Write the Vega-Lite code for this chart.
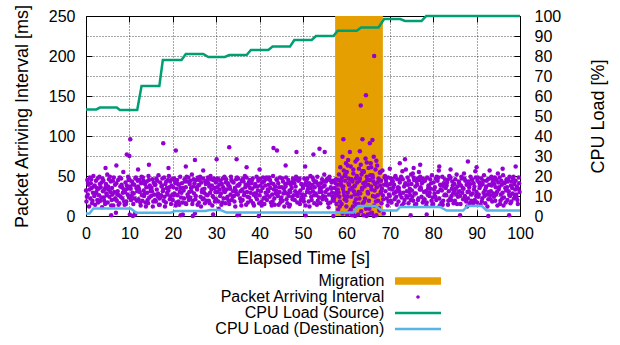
{
"$schema":"https://vega.github.io/schema/vega-lite/v6.json",
"width":434,"height":200,
"autosize":{"type":"none"},
"padding":{"left":86,"top":16,"right":100,"bottom":129},
"config":{
 "font":"Liberation Sans",
 "view":{"stroke":"#000","strokeWidth":1},
 "axis":{"labelFontSize":16,"titleFontSize":18,"labelColor":"#000","titleColor":"#000","titleFontWeight":"normal","domain":false,"tickColor":"#000","tickWidth":1,"tickSize":-6,"gridColor":"#000","gridOpacity":0.7,"gridDash":[1,2],"gridWidth":1,"labelFlush":false,"labelOverlap":false}
},
"datasets":{
"mig":[{"start":57.4,"end":68.4}],
"src":[{"t":0,"p":53.3},{"t":2.4,"p":53.3},{"t":3.2,"p":54.2},{"t":7.1,"p":54.2},{"t":7.8,"p":53},{"t":11.8,"p":53},{"t":12.8,"p":65},{"t":16.9,"p":65},{"t":17.7,"p":78},{"t":22,"p":78},{"t":23,"p":81},{"t":27,"p":81},{"t":28.2,"p":79.5},{"t":32,"p":79.5},{"t":33,"p":80.5},{"t":37,"p":80.5},{"t":38,"p":83},{"t":42,"p":83},{"t":43,"p":84.7},{"t":47,"p":84.7},{"t":48,"p":88},{"t":52,"p":88},{"t":53,"p":90},{"t":57,"p":90},{"t":58,"p":92.6},{"t":62.4,"p":92.6},{"t":63.4,"p":94.3},{"t":67.4,"p":94.3},{"t":68.7,"p":98.5},{"t":72.4,"p":98.5},{"t":73.5,"p":97.5},{"t":77.3,"p":97.5},{"t":78.4,"p":100},{"t":100,"p":100}],
"dst":[{"t":0,"p":1.3},{"t":0.8,"p":1.3},{"t":1.7,"p":3.8},{"t":10.3,"p":3.8},{"t":11.6,"p":1.6},{"t":19.5,"p":1.6},{"t":20.5,"p":2.5},{"t":27.5,"p":2.5},{"t":28.5,"p":3},{"t":31,"p":3},{"t":32.4,"p":1.7},{"t":61.6,"p":1.7},{"t":62.7,"p":5},{"t":66.8,"p":5},{"t":68.1,"p":2.7},{"t":71.6,"p":2.7},{"t":72.4,"p":4.5},{"t":81.6,"p":4.5},{"t":83.1,"p":2.7},{"t":86.9,"p":2.7},{"t":87.9,"p":5},{"t":91.2,"p":5},{"t":92.3,"p":2.8},{"t":100,"p":2.8}],
"pkt":[
{"t":0,"v":32},{"t":0.1,"v":18},{"t":0.3,"v":45},{"t":0.4,"v":27},{"t":0.6,"v":39},{"t":0.7,"v":12},{"t":0.9,"v":48},
{"t":1,"v":22},{"t":1.1,"v":41},{"t":1.3,"v":35},{"t":1.4,"v":16},{"t":1.6,"v":29},{"t":1.7,"v":50},{"t":1.9,"v":25},
{"t":2,"v":38},{"t":2.1,"v":14},{"t":2.3,"v":44},{"t":2.4,"v":30},{"t":2.6,"v":20},{"t":2.7,"v":47},{"t":2.9,"v":34},
{"t":3,"v":26},{"t":3.1,"v":49},{"t":3.3,"v":19},{"t":3.4,"v":36},{"t":3.6,"v":42},{"t":3.7,"v":11},{"t":3.9,"v":31},
{"t":4,"v":44},{"t":4.1,"v":23},{"t":4.3,"v":33},{"t":4.4,"v":15},{"t":4.6,"v":40},{"t":4.7,"v":28},{"t":4.9,"v":52},
{"t":5,"v":17},{"t":5.1,"v":37},{"t":5.3,"v":46},{"t":5.4,"v":24},{"t":5.6,"v":30},{"t":5.7,"v":43},{"t":5.9,"v":20},
{"t":6,"v":35},{"t":6.1,"v":27},{"t":6.3,"v":13},{"t":6.4,"v":48},{"t":6.6,"v":21},{"t":6.7,"v":39},{"t":6.9,"v":4},
{"t":7,"v":41},{"t":7.1,"v":19},{"t":7.3,"v":31},{"t":7.4,"v":45},{"t":7.6,"v":26},{"t":7.7,"v":16},{"t":7.9,"v":37},
{"t":8,"v":24},{"t":8.1,"v":47},{"t":8.3,"v":36},{"t":8.4,"v":22},{"t":8.6,"v":55},{"t":8.7,"v":33},{"t":8.9,"v":14},
{"t":9,"v":30},{"t":9.1,"v":42},{"t":9.3,"v":18},{"t":9.4,"v":38},{"t":9.6,"v":27},{"t":9.7,"v":49},{"t":9.9,"v":23},
{"t":10,"v":46},{"t":10.1,"v":2},{"t":10.3,"v":34},{"t":10.4,"v":20},{"t":10.6,"v":43},{"t":10.7,"v":29},{"t":10.9,"v":15},
{"t":11,"v":28},{"t":11.1,"v":39},{"t":11.3,"v":3},{"t":11.4,"v":47},{"t":11.6,"v":35},{"t":11.7,"v":19},{"t":11.9,"v":44},
{"t":12,"v":37},{"t":12.1,"v":21},{"t":12.3,"v":45},{"t":12.4,"v":30},{"t":12.6,"v":13},{"t":12.7,"v":41},{"t":12.9,"v":26},
{"t":13,"v":19},{"t":13.1,"v":48},{"t":13.3,"v":32},{"t":13.4,"v":25},{"t":13.6,"v":40},{"t":13.7,"v":17},{"t":13.9,"v":36},
{"t":14,"v":43},{"t":14.1,"v":29},{"t":14.3,"v":16},{"t":14.4,"v":50},{"t":14.6,"v":23},{"t":14.7,"v":38},{"t":14.9,"v":31},
{"t":15,"v":25},{"t":15.1,"v":35},{"t":15.3,"v":46},{"t":15.4,"v":12},{"t":15.6,"v":42},{"t":15.7,"v":27},{"t":15.9,"v":20},
{"t":16,"v":39},{"t":16.1,"v":18},{"t":16.3,"v":33},{"t":16.4,"v":44},{"t":16.6,"v":28},{"t":16.7,"v":51},{"t":16.9,"v":22},
{"t":17,"v":14},{"t":17.1,"v":42},{"t":17.3,"v":26},{"t":17.4,"v":37},{"t":17.6,"v":47},{"t":17.7,"v":31},{"t":17.9,"v":19},
{"t":18,"v":48},{"t":18.1,"v":24},{"t":18.3,"v":40},{"t":18.4,"v":17},{"t":18.6,"v":35},{"t":18.7,"v":29},{"t":18.9,"v":45},
{"t":19,"v":32},{"t":19.1,"v":50},{"t":19.3,"v":21},{"t":19.4,"v":43},{"t":19.6,"v":15},{"t":19.7,"v":38},{"t":19.9,"v":27},
{"t":20,"v":20},{"t":20.1,"v":36},{"t":20.3,"v":47},{"t":20.4,"v":28},{"t":20.6,"v":41},{"t":20.7,"v":13},{"t":20.9,"v":34},
{"t":21,"v":45},{"t":21.1,"v":26},{"t":21.3,"v":18},{"t":21.4,"v":39},{"t":21.6,"v":30},{"t":21.7,"v":49},{"t":21.9,"v":23},
{"t":22,"v":29},{"t":22.1,"v":41},{"t":22.3,"v":2},{"t":22.4,"v":35},{"t":22.6,"v":22},{"t":22.7,"v":46},{"t":22.9,"v":16},
{"t":23,"v":36},{"t":23.1,"v":15},{"t":23.3,"v":43},{"t":23.4,"v":27},{"t":23.6,"v":48},{"t":23.7,"v":20},{"t":23.9,"v":40},
{"t":24,"v":23},{"t":24.1,"v":44},{"t":24.3,"v":31},{"t":24.4,"v":52},{"t":24.6,"v":19},{"t":24.7,"v":37},{"t":24.9,"v":28},
{"t":25,"v":41},{"t":25.1,"v":3},{"t":25.3,"v":25},{"t":25.4,"v":45},{"t":25.6,"v":33},{"t":25.7,"v":14},{"t":25.9,"v":38},
{"t":26,"v":17},{"t":26.1,"v":39},{"t":26.3,"v":49},{"t":26.4,"v":24},{"t":26.6,"v":42},{"t":26.7,"v":30},{"t":26.9,"v":21},
{"t":27,"v":47},{"t":27.1,"v":22},{"t":27.3,"v":34},{"t":27.4,"v":16},{"t":27.6,"v":40},{"t":27.7,"v":27},{"t":27.9,"v":44},
{"t":28,"v":26},{"t":28.1,"v":48},{"t":28.3,"v":19},{"t":28.4,"v":37},{"t":28.6,"v":29},{"t":28.7,"v":50},{"t":28.9,"v":33},
{"t":29,"v":38},{"t":29.1,"v":13},{"t":29.3,"v":45},{"t":29.4,"v":23},{"t":29.6,"v":35},{"t":29.7,"v":18},{"t":29.9,"v":42},
{"t":30,"v":21},{"t":30.1,"v":43},{"t":30.3,"v":30},{"t":30.4,"v":47},{"t":30.6,"v":9},{"t":30.7,"v":39},{"t":30.9,"v":25},
{"t":31,"v":44},{"t":31.1,"v":28},{"t":31.3,"v":40},{"t":31.4,"v":17},{"t":31.6,"v":36},{"t":31.7,"v":22},{"t":31.9,"v":49},
{"t":32,"v":30},{"t":32.1,"v":16},{"t":32.3,"v":46},{"t":32.4,"v":33},{"t":32.6,"v":24},{"t":32.7,"v":41},{"t":32.9,"v":19},
{"t":33,"v":15},{"t":33.1,"v":37},{"t":33.3,"v":27},{"t":33.4,"v":49},{"t":33.6,"v":20},{"t":33.7,"v":43},{"t":33.9,"v":31},
{"t":34,"v":42},{"t":34.1,"v":25},{"t":34.3,"v":35},{"t":34.4,"v":12},{"t":34.6,"v":46},{"t":34.7,"v":28},{"t":34.9,"v":38},
{"t":35,"v":27},{"t":35.1,"v":47},{"t":35.3,"v":2},{"t":35.4,"v":40},{"t":35.6,"v":31},{"t":35.7,"v":18},{"t":35.9,"v":44},
{"t":36,"v":33},{"t":36.1,"v":20},{"t":36.3,"v":43},{"t":36.4,"v":26},{"t":36.6,"v":50},{"t":36.7,"v":36},{"t":36.9,"v":14},
{"t":37,"v":48},{"t":37.1,"v":30},{"t":37.3,"v":17},{"t":37.4,"v":38},{"t":37.6,"v":23},{"t":37.7,"v":45},{"t":37.9,"v":29},
{"t":38,"v":19},{"t":38.1,"v":41},{"t":38.3,"v":34},{"t":38.4,"v":47},{"t":38.6,"v":27},{"t":38.7,"v":13},{"t":38.9,"v":37},
{"t":39,"v":40},{"t":39.1,"v":24},{"t":39.3,"v":49},{"t":39.4,"v":21},{"t":39.6,"v":32},{"t":39.7,"v":44},{"t":39.9,"v":16},
{"t":40,"v":26},{"t":40.1,"v":46},{"t":40.3,"v":31},{"t":40.4,"v":18},{"t":40.6,"v":42},{"t":40.7,"v":35},{"t":40.9,"v":22},
{"t":41,"v":43},{"t":41.1,"v":15},{"t":41.3,"v":38},{"t":41.4,"v":29},{"t":41.6,"v":48},{"t":41.7,"v":20},{"t":41.9,"v":33},
{"t":42,"v":31},{"t":42.1,"v":39},{"t":42.3,"v":24},{"t":42.4,"v":45},{"t":42.6,"v":17},{"t":42.7,"v":41},{"t":42.9,"v":27},
{"t":43,"v":18},{"t":43.1,"v":50},{"t":43.3,"v":33},{"t":43.4,"v":22},{"t":43.6,"v":37},{"t":43.7,"v":28},{"t":43.9,"v":46},
{"t":44,"v":45},{"t":44.1,"v":27},{"t":44.3,"v":41},{"t":44.4,"v":14},{"t":44.6,"v":30},{"t":44.7,"v":48},{"t":44.9,"v":21},
{"t":45,"v":23},{"t":45.1,"v":36},{"t":45.3,"v":19},{"t":45.4,"v":43},{"t":45.6,"v":34},{"t":45.7,"v":12},{"t":45.9,"v":40},
{"t":46,"v":37},{"t":46.1,"v":48},{"t":46.3,"v":28},{"t":46.4,"v":16},{"t":46.6,"v":45},{"t":46.7,"v":25},{"t":46.9,"v":32},
{"t":47,"v":14},{"t":47.1,"v":30},{"t":47.3,"v":42},{"t":47.4,"v":35},{"t":47.6,"v":21},{"t":47.7,"v":47},{"t":47.9,"v":26},
{"t":48,"v":41},{"t":48.1,"v":20},{"t":48.3,"v":37},{"t":48.4,"v":49},{"t":48.6,"v":27},{"t":48.7,"v":17},{"t":48.9,"v":44},
{"t":49,"v":29},{"t":49.1,"v":45},{"t":49.3,"v":15},{"t":49.4,"v":32},{"t":49.6,"v":40},{"t":49.7,"v":23},{"t":49.9,"v":38},
{"t":50,"v":35},{"t":50.1,"v":22},{"t":50.3,"v":47},{"t":50.4,"v":26},{"t":50.6,"v":13},{"t":50.7,"v":42},{"t":50.9,"v":30},
{"t":51,"v":47},{"t":51.1,"v":33},{"t":51.3,"v":18},{"t":51.4,"v":41},{"t":51.6,"v":29},{"t":51.7,"v":50},{"t":51.9,"v":24},
{"t":52,"v":20},{"t":52.1,"v":39},{"t":52.3,"v":31},{"t":52.4,"v":45},{"t":52.6,"v":16},{"t":52.7,"v":36},{"t":52.9,"v":28},
{"t":53,"v":43},{"t":53.1,"v":26},{"t":53.3,"v":49},{"t":53.4,"v":19},{"t":53.6,"v":38},{"t":53.7,"v":23},{"t":53.9,"v":34},
{"t":54,"v":16},{"t":54.1,"v":41},{"t":54.3,"v":30},{"t":54.4,"v":46},{"t":54.6,"v":25},{"t":54.7,"v":37},{"t":54.9,"v":52},
{"t":55,"v":38},{"t":55.1,"v":24},{"t":55.3,"v":43},{"t":55.4,"v":20},{"t":55.6,"v":33},{"t":55.7,"v":47},{"t":55.9,"v":11},
{"t":56,"v":27},{"t":56.1,"v":49},{"t":56.3,"v":17},{"t":56.4,"v":36},{"t":56.6,"v":42},{"t":56.7,"v":29},{"t":56.9,"v":21},
{"t":57,"v":44},{"t":57.1,"v":19},{"t":57.3,"v":35},{"t":57.4,"v":28},{"t":57.6,"v":46},{"t":57.7,"v":15},{"t":57.9,"v":39},
{"t":58,"v":33},{"t":58.1,"v":8},{"t":58.3,"v":52},{"t":58.4,"v":24},{"t":58.6,"v":61},{"t":58.7,"v":41},{"t":58.9,"v":15},
{"t":59,"v":48},{"t":59.1,"v":3},{"t":59.3,"v":37},{"t":59.4,"v":57},{"t":59.6,"v":21},{"t":59.7,"v":44},{"t":59.9,"v":66},
{"t":60,"v":12},{"t":60.1,"v":55},{"t":60.3,"v":29},{"t":60.4,"v":70},{"t":60.6,"v":39},{"t":60.7,"v":5},{"t":60.9,"v":46},
{"t":61,"v":62},{"t":61.1,"v":24},{"t":61.3,"v":1},{"t":61.4,"v":43},{"t":61.6,"v":53},{"t":61.7,"v":31},{"t":61.9,"v":17},
{"t":62,"v":38},{"t":62.1,"v":68},{"t":62.3,"v":14},{"t":62.4,"v":50},{"t":62.6,"v":27},{"t":62.7,"v":2},{"t":62.9,"v":59},
{"t":63,"v":22},{"t":63.1,"v":47},{"t":63.3,"v":64},{"t":63.4,"v":6},{"t":63.6,"v":35},{"t":63.7,"v":56},{"t":63.9,"v":41},
{"t":64,"v":55},{"t":64.1,"v":18},{"t":64.3,"v":42},{"t":64.4,"v":72},{"t":64.6,"v":0},{"t":64.7,"v":49},{"t":64.9,"v":30},
{"t":65,"v":28},{"t":65.1,"v":60},{"t":65.3,"v":9},{"t":65.4,"v":45},{"t":65.6,"v":66},{"t":65.7,"v":37},{"t":65.9,"v":4},
{"t":66,"v":51},{"t":66.1,"v":25},{"t":66.3,"v":74},{"t":66.4,"v":13},{"t":66.6,"v":40},{"t":66.7,"v":58},{"t":66.9,"v":1},
{"t":67,"v":36},{"t":67.1,"v":63},{"t":67.3,"v":19},{"t":67.4,"v":47},{"t":67.6,"v":7},{"t":67.7,"v":54},{"t":67.9,"v":29},
{"t":68,"v":44},{"t":68.1,"v":16},{"t":68.3,"v":57},{"t":68.4,"v":26},{"t":68.6,"v":3},{"t":68.7,"v":39},{"t":68.9,"v":50},
{"t":69,"v":31},{"t":69.1,"v":45},{"t":69.3,"v":22},{"t":69.4,"v":38},{"t":69.6,"v":48},{"t":69.7,"v":18},{"t":69.9,"v":34},
{"t":70,"v":25},{"t":70.1,"v":40},{"t":70.3,"v":47},{"t":70.4,"v":17},{"t":70.6,"v":33},{"t":70.7,"v":43},{"t":70.9,"v":28},
{"t":71,"v":39},{"t":71.1,"v":21},{"t":71.3,"v":50},{"t":71.4,"v":30},{"t":71.6,"v":14},{"t":71.7,"v":46},{"t":71.9,"v":36},
{"t":72,"v":18},{"t":72.1,"v":35},{"t":72.3,"v":42},{"t":72.4,"v":27},{"t":72.6,"v":49},{"t":72.7,"v":23},{"t":72.9,"v":56},
{"t":73,"v":46},{"t":73.1,"v":29},{"t":73.3,"v":37},{"t":73.4,"v":20},{"t":73.6,"v":41},{"t":73.7,"v":58},{"t":73.9,"v":31},
{"t":74,"v":23},{"t":74.1,"v":48},{"t":74.3,"v":16},{"t":74.4,"v":44},{"t":74.6,"v":34},{"t":74.7,"v":26},{"t":74.9,"v":52},
{"t":75,"v":40},{"t":75.1,"v":32},{"t":75.3,"v":53},{"t":75.4,"v":19},{"t":75.6,"v":45},{"t":75.7,"v":28},{"t":75.9,"v":37},
{"t":76,"v":28},{"t":76.1,"v":15},{"t":76.3,"v":39},{"t":76.4,"v":47},{"t":76.6,"v":22},{"t":76.7,"v":55},{"t":76.9,"v":33},
{"t":77,"v":49},{"t":77.1,"v":36},{"t":77.3,"v":24},{"t":77.4,"v":41},{"t":77.6,"v":17},{"t":77.7,"v":43},{"t":77.9,"v":30},
{"t":78,"v":21},{"t":78.1,"v":44},{"t":78.3,"v":31},{"t":78.4,"v":13},{"t":78.6,"v":48},{"t":78.7,"v":27},{"t":78.9,"v":38},
{"t":79,"v":37},{"t":79.1,"v":25},{"t":79.3,"v":46},{"t":79.4,"v":34},{"t":79.6,"v":19},{"t":79.7,"v":51},{"t":79.9,"v":23},
{"t":80,"v":15},{"t":80.1,"v":42},{"t":80.3,"v":28},{"t":80.4,"v":36},{"t":80.6,"v":47},{"t":80.7,"v":20},{"t":80.9,"v":45},
{"t":81,"v":44},{"t":81.1,"v":30},{"t":81.3,"v":57},{"t":81.4,"v":22},{"t":81.6,"v":39},{"t":81.7,"v":33},{"t":81.9,"v":17},
{"t":82,"v":32},{"t":82.1,"v":49},{"t":82.3,"v":19},{"t":82.4,"v":41},{"t":82.6,"v":26},{"t":82.7,"v":46},{"t":82.9,"v":35},
{"t":83,"v":26},{"t":83.1,"v":38},{"t":83.3,"v":45},{"t":83.4,"v":14},{"t":83.6,"v":31},{"t":83.7,"v":50},{"t":83.9,"v":22},
{"t":84,"v":48},{"t":84.1,"v":20},{"t":84.3,"v":34},{"t":84.4,"v":43},{"t":84.6,"v":28},{"t":84.7,"v":16},{"t":84.9,"v":40},
{"t":85,"v":19},{"t":85.1,"v":46},{"t":85.3,"v":27},{"t":85.4,"v":52},{"t":85.6,"v":37},{"t":85.7,"v":24},{"t":85.9,"v":43},
{"t":86,"v":41},{"t":86.1,"v":31},{"t":86.3,"v":15},{"t":86.4,"v":38},{"t":86.6,"v":47},{"t":86.7,"v":29},{"t":86.9,"v":21},
{"t":87,"v":34},{"t":87.1,"v":53},{"t":87.3,"v":25},{"t":87.4,"v":44},{"t":87.6,"v":18},{"t":87.7,"v":39},{"t":87.9,"v":30},
{"t":88,"v":22},{"t":88.1,"v":43},{"t":88.3,"v":36},{"t":88.4,"v":16},{"t":88.6,"v":49},{"t":88.7,"v":27},{"t":88.9,"v":46},
{"t":89,"v":45},{"t":89.1,"v":28},{"t":89.3,"v":41},{"t":89.4,"v":33},{"t":89.6,"v":20},{"t":89.7,"v":56},{"t":89.9,"v":25},
{"t":90,"v":30},{"t":90.1,"v":17},{"t":90.3,"v":48},{"t":90.4,"v":24},{"t":90.6,"v":42},{"t":90.7,"v":35},{"t":90.9,"v":14},
{"t":91,"v":38},{"t":91.1,"v":47},{"t":91.3,"v":22},{"t":91.4,"v":40},{"t":91.6,"v":29},{"t":91.7,"v":51},{"t":91.9,"v":32},
{"t":92,"v":16},{"t":92.1,"v":35},{"t":92.3,"v":44},{"t":92.4,"v":27},{"t":92.6,"v":46},{"t":92.7,"v":21},{"t":92.9,"v":39},
{"t":93,"v":47},{"t":93.1,"v":26},{"t":93.3,"v":31},{"t":93.4,"v":49},{"t":93.6,"v":18},{"t":93.7,"v":42},{"t":93.9,"v":28},
{"t":94,"v":24},{"t":94.1,"v":40},{"t":94.3,"v":19},{"t":94.4,"v":36},{"t":94.6,"v":45},{"t":94.7,"v":30},{"t":94.9,"v":53},
{"t":95,"v":42},{"t":95.1,"v":33},{"t":95.3,"v":48},{"t":95.4,"v":15},{"t":95.6,"v":27},{"t":95.7,"v":44},{"t":95.9,"v":22},
{"t":96,"v":29},{"t":96.1,"v":51},{"t":96.3,"v":23},{"t":96.4,"v":41},{"t":96.6,"v":35},{"t":96.7,"v":17},{"t":96.9,"v":46},
{"t":97,"v":36},{"t":97.1,"v":20},{"t":97.3,"v":45},{"t":97.4,"v":31},{"t":97.6,"v":49},{"t":97.7,"v":25},{"t":97.9,"v":38},
{"t":98,"v":18},{"t":98.1,"v":43},{"t":98.3,"v":28},{"t":98.4,"v":47},{"t":98.6,"v":22},{"t":98.7,"v":40},{"t":98.9,"v":33},
{"t":99,"v":44},{"t":99.1,"v":27},{"t":99.3,"v":37},{"t":99.4,"v":20},{"t":99.6,"v":34},{"t":99.7,"v":48},{"t":99.9,"v":30},
{"t":0.2,"v":24},{"t":0.5,"v":41},{"t":0.8,"v":33},{"t":1.2,"v":46},{"t":1.5,"v":19},{"t":1.8,"v":37},{"t":2.2,"v":28},{"t":2.5,"v":35},{"t":2.8,"v":17},
{"t":3.2,"v":40},{"t":3.5,"v":23},{"t":3.8,"v":47},{"t":4.2,"v":19},{"t":4.5,"v":36},{"t":4.8,"v":26},{"t":5.2,"v":33},{"t":5.5,"v":49},{"t":5.8,"v":13},
{"t":6.2,"v":44},{"t":6.5,"v":30},{"t":6.8,"v":22},{"t":7.2,"v":27},{"t":7.5,"v":14},{"t":7.8,"v":48},{"t":8.2,"v":39},{"t":8.5,"v":29},{"t":8.8,"v":18},
{"t":9.2,"v":15},{"t":9.5,"v":34},{"t":9.8,"v":45},{"t":10.2,"v":37},{"t":10.5,"v":25},{"t":10.8,"v":40},{"t":11.2,"v":22},{"t":11.5,"v":48},{"t":11.8,"v":31},
{"t":12.2,"v":34},{"t":12.5,"v":17},{"t":12.8,"v":49},{"t":13.2,"v":44},{"t":13.5,"v":28},{"t":13.8,"v":12},{"t":14.2,"v":20},{"t":14.5,"v":45},{"t":14.8,"v":35},
{"t":15.2,"v":31},{"t":15.5,"v":18},{"t":15.8,"v":39},{"t":16.2,"v":47},{"t":16.5,"v":25},{"t":16.8,"v":14},{"t":17.2,"v":23},{"t":17.5,"v":38},{"t":17.8,"v":33},
{"t":18.2,"v":12},{"t":18.5,"v":43},{"t":18.8,"v":27},{"t":19.2,"v":36},{"t":19.5,"v":24},{"t":19.8,"v":46},{"t":20.2,"v":26},{"t":20.5,"v":44},{"t":20.8,"v":17},
{"t":21.2,"v":40},{"t":21.5,"v":14},{"t":21.8,"v":35},{"t":22.2,"v":17},{"t":22.5,"v":32},{"t":22.8,"v":43},{"t":23.2,"v":49},{"t":23.5,"v":24},{"t":23.8,"v":30},
{"t":24.2,"v":35},{"t":24.5,"v":15},{"t":24.8,"v":46},{"t":25.2,"v":21},{"t":25.5,"v":36},{"t":25.8,"v":48},{"t":26.2,"v":45},{"t":26.5,"v":12},{"t":26.8,"v":33},
{"t":27.2,"v":29},{"t":27.5,"v":43},{"t":27.8,"v":19},{"t":28.2,"v":41},{"t":28.5,"v":16},{"t":28.8,"v":46},{"t":29.2,"v":25},{"t":29.5,"v":47},{"t":29.8,"v":30},
{"t":30.2,"v":36},{"t":30.5,"v":18},{"t":30.8,"v":33},{"t":31.2,"v":14},{"t":31.5,"v":47},{"t":31.8,"v":32},{"t":32.2,"v":42},{"t":32.5,"v":22},{"t":32.8,"v":38},
{"t":33.2,"v":34},{"t":33.5,"v":45},{"t":33.8,"v":24},{"t":34.2,"v":18},{"t":34.5,"v":32},{"t":34.8,"v":48},{"t":35.2,"v":38},{"t":35.5,"v":22},{"t":35.8,"v":13},
{"t":36.2,"v":47},{"t":36.5,"v":29},{"t":36.8,"v":39},{"t":37.2,"v":24},{"t":37.5,"v":42},{"t":37.8,"v":35},{"t":38.2,"v":44},{"t":38.5,"v":16},{"t":38.8,"v":28},
{"t":39.2,"v":28},{"t":39.5,"v":37},{"t":39.8,"v":46},{"t":40.2,"v":38},{"t":40.5,"v":13},{"t":40.8,"v":48},{"t":41.2,"v":23},{"t":41.5,"v":46},{"t":41.8,"v":26},
{"t":42.2,"v":48},{"t":42.5,"v":35},{"t":42.8,"v":13},{"t":43.2,"v":40},{"t":43.5,"v":14},{"t":43.8,"v":32},{"t":44.2,"v":25},{"t":44.5,"v":36},{"t":44.8,"v":17},
{"t":45.2,"v":47},{"t":45.5,"v":28},{"t":45.8,"v":30},{"t":46.2,"v":21},{"t":46.5,"v":41},{"t":46.8,"v":12},{"t":47.2,"v":39},{"t":47.5,"v":24},{"t":47.8,"v":44},
{"t":48.2,"v":31},{"t":48.5,"v":46},{"t":48.8,"v":25},{"t":49.2,"v":47},{"t":49.5,"v":20},{"t":49.8,"v":27},{"t":50.2,"v":18},{"t":50.5,"v":39},{"t":50.8,"v":45},
{"t":51.2,"v":37},{"t":51.5,"v":12},{"t":51.8,"v":35},{"t":52.2,"v":48},{"t":52.5,"v":26},{"t":52.8,"v":42},{"t":53.2,"v":14},{"t":53.5,"v":40},{"t":53.8,"v":30},
{"t":54.2,"v":35},{"t":54.5,"v":21},{"t":54.8,"v":43},{"t":55.2,"v":30},{"t":55.5,"v":46},{"t":55.8,"v":16},{"t":56.2,"v":45},{"t":56.5,"v":34},{"t":56.8,"v":24},
{"t":57.2,"v":23},{"t":57.5,"v":41},{"t":57.8,"v":31},{"t":58.2,"v":29},{"t":58.5,"v":18},{"t":58.8,"v":44},{"t":59.2,"v":34},{"t":59.5,"v":26},{"t":59.8,"v":50},
{"t":60.2,"v":24},{"t":60.5,"v":47},{"t":60.8,"v":33},{"t":61.2,"v":46},{"t":61.5,"v":12},{"t":61.8,"v":37},{"t":62.2,"v":21},{"t":62.5,"v":42},{"t":62.8,"v":30},
{"t":63.2,"v":28},{"t":63.5,"v":52},{"t":63.8,"v":16},{"t":64.2,"v":37},{"t":64.5,"v":9},{"t":64.8,"v":45},{"t":65.2,"v":19},{"t":65.5,"v":51},{"t":65.8,"v":33},
{"t":66.2,"v":43},{"t":66.5,"v":32},{"t":66.8,"v":18},{"t":67.2,"v":26},{"t":67.5,"v":45},{"t":67.8,"v":38},{"t":68.2,"v":34},{"t":68.5,"v":21},{"t":68.8,"v":48},
{"t":69.2,"v":42},{"t":69.5,"v":13},{"t":69.8,"v":27},{"t":70.2,"v":19},{"t":70.5,"v":44},{"t":70.8,"v":36},{"t":71.2,"v":48},{"t":71.5,"v":24},{"t":71.8,"v":33},
{"t":72.2,"v":31},{"t":72.5,"v":46},{"t":72.8,"v":13},{"t":73.2,"v":16},{"t":73.5,"v":39},{"t":73.8,"v":25},{"t":74.2,"v":39},{"t":74.5,"v":30},{"t":74.8,"v":20},
{"t":75.2,"v":24},{"t":75.5,"v":48},{"t":75.8,"v":14},{"t":76.2,"v":43},{"t":76.5,"v":20},{"t":76.8,"v":45},{"t":77.2,"v":33},{"t":77.5,"v":47},{"t":77.8,"v":20},
{"t":78.2,"v":46},{"t":78.5,"v":17},{"t":78.8,"v":34},{"t":79.2,"v":29},{"t":79.5,"v":41},{"t":79.8,"v":14},{"t":80.2,"v":33},{"t":80.5,"v":24},{"t":80.8,"v":49},
{"t":81.2,"v":48},{"t":81.5,"v":13},{"t":81.8,"v":38},{"t":82.2,"v":14},{"t":82.5,"v":37},{"t":82.8,"v":27},{"t":83.2,"v":42},{"t":83.5,"v":19},{"t":83.8,"v":47},
{"t":84.2,"v":25},{"t":84.5,"v":38},{"t":84.8,"v":31},{"t":85.2,"v":34},{"t":85.5,"v":15},{"t":85.8,"v":30},{"t":86.2,"v":25},{"t":86.5,"v":49},{"t":86.8,"v":35},
{"t":87.2,"v":47},{"t":87.5,"v":21},{"t":87.8,"v":12},{"t":88.2,"v":31},{"t":88.5,"v":40},{"t":88.8,"v":19},{"t":89.2,"v":16},{"t":89.5,"v":37},{"t":89.8,"v":48},
{"t":90.2,"v":44},{"t":90.5,"v":27},{"t":90.8,"v":39},{"t":91.2,"v":18},{"t":91.5,"v":44},{"t":91.8,"v":25},{"t":92.2,"v":37},{"t":92.5,"v":12},{"t":92.8,"v":30},
{"t":93.2,"v":21},{"t":93.5,"v":38},{"t":93.8,"v":45},{"t":94.2,"v":48},{"t":94.5,"v":27},{"t":94.8,"v":13},{"t":95.2,"v":36},{"t":95.5,"v":19},{"t":95.8,"v":39},
{"t":96.2,"v":13},{"t":96.5,"v":42},{"t":96.8,"v":32},{"t":97.2,"v":43},{"t":97.5,"v":27},{"t":97.8,"v":16},{"t":98.2,"v":35},{"t":98.5,"v":49},{"t":98.8,"v":26},
{"t":99.2,"v":24},{"t":99.5,"v":15},{"t":99.8,"v":41},
{"t":57.8,"v":26},{"t":58.2,"v":45},{"t":58.5,"v":12},{"t":58.8,"v":38},{"t":59.1,"v":74},{"t":59.4,"v":30},{"t":59.7,"v":52},{"t":60,"v":19},{"t":60.3,"v":63},{"t":60.5,"v":41},{"t":60.8,"v":80},{"t":61,"v":8},{"t":61.3,"v":35},{"t":61.6,"v":58},{"t":61.9,"v":27},{"t":62.2,"v":47},{"t":62.5,"v":71},{"t":62.8,"v":15},{"t":63,"v":44},{"t":63.1,"v":81},{"t":63.3,"v":138},{"t":63.6,"v":33},{"t":63.7,"v":96},{"t":64,"v":56},{"t":64.3,"v":22},{"t":64.5,"v":151},{"t":64.7,"v":67},{"t":65,"v":39},{"t":65.2,"v":11},{"t":65.4,"v":91},{"t":65.7,"v":61},{"t":66,"v":95},{"t":66.1,"v":48},{"t":66.4,"v":200},{"t":66.6,"v":24},{"t":66.9,"v":69},{"t":67.2,"v":42},{"t":67.5,"v":10},{"t":67.8,"v":55},{"t":68,"v":31},{"t":59.3,"v":96},{"t":60.2,"v":2},{"t":62,"v":0},{"t":63.9,"v":1},{"t":65.5,"v":3},{"t":66.3,"v":0},{"t":64.9,"v":2},{"t":61.5,"v":4},
{"t":10.2,"v":96},{"t":17.8,"v":91},{"t":20.7,"v":82},{"t":33,"v":86},{"t":43.2,"v":85},{"t":44,"v":82},{"t":48.5,"v":80},{"t":9.4,"v":77},{"t":10,"v":75},{"t":30.1,"v":71},{"t":25.1,"v":70},{"t":34.7,"v":71},{"t":53.8,"v":84},{"t":52.4,"v":77},{"t":55,"v":80},{"t":73.5,"v":71},{"t":88,"v":68},{"t":81.4,"v":62},{"t":72.3,"v":66},
{"t":4.5,"v":60},{"t":7,"v":63},{"t":12,"v":58},{"t":14.5,"v":64},{"t":19,"v":60},{"t":23,"v":62},{"t":27,"v":57},{"t":37,"v":61},{"t":40,"v":58},{"t":46,"v":63},{"t":50.5,"v":62},{"t":70,"v":59},{"t":75.5,"v":60},{"t":77,"v":64},{"t":84,"v":58},{"t":90,"v":61},{"t":93,"v":57},{"t":96,"v":59},{"t":99,"v":62},
{"t":5.8,"v":1},{"t":10.8,"v":0},{"t":11.3,"v":2},{"t":21.8,"v":1},{"t":24.6,"v":0},{"t":29.3,"v":2},{"t":34.9,"v":1},{"t":39.8,"v":0},{"t":50.6,"v":1},{"t":57,"v":0},{"t":74.8,"v":1},{"t":78.5,"v":2},{"t":86.2,"v":1},{"t":92.7,"v":0},{"t":97.5,"v":1}
]
},
"layer":[
 {"data":{"name":"mig"},"mark":{"type":"rect","color":"#E69F00"},
  "encoding":{
   "x":{"field":"start","type":"quantitative","scale":{"domain":[0,100],"nice":false},"axis":{"orient":"bottom","values":[0,10,20,30,40,50,60,70,80,90,100],"grid":true,"labelPadding":15.3,"title":"Elapsed Time [s]","titleX":217,"titleY":47,"titleAlign":"center","titleBaseline":"alphabetic"}},
   "x2":{"field":"end"}}},
 {"data":{"name":"pkt"},"mark":{"type":"circle","size":20,"opacity":1,"color":"#9400D3"},
  "encoding":{"x":{"field":"t","type":"quantitative","axis":null},
   "y":{"field":"v","type":"quantitative","scale":{"domain":[0,250],"nice":false},"axis":{"orient":"left","values":[0,50,100,150,200,250],"grid":false,"labelPadding":17,"title":"Packet Arriving Interval [ms]","titleX":-58.5,"titleY":100,"titleAngle":270,"titleAlign":"center","titleBaseline":"alphabetic"}}}},
 {"data":{"name":"src"},"mark":{"type":"line","color":"#009E73","strokeWidth":2.5},
  "encoding":{"x":{"field":"t","type":"quantitative","axis":{"orient":"top","labels":false,"grid":false,"values":[0,10,20,30,40,50,60,70,80,90,100],"title":null}},
   "y":{"field":"p","type":"quantitative","scale":{"domain":[0,100],"nice":false},"axis":{"orient":"right","values":[0,10,20,30,40,50,60,70,80,90,100],"grid":true,"labelPadding":20,"title":"CPU Load [%]","titleX":83,"titleY":100,"titleAngle":270,"titleAlign":"center","titleBaseline":"alphabetic"}}}},
 {"data":{"name":"dst"},"mark":{"type":"line","color":"#56B4E9","strokeWidth":2.5},
  "encoding":{"x":{"field":"t","type":"quantitative","axis":null},"y":{"field":"p","type":"quantitative","scale":{"domain":[0,100],"nice":false},"axis":null}}},
 {"data":{"values":[]},"mark":{"type":"point","filled":true,"opacity":1},
  "encoding":{
   "color":{"field":"s","type":"nominal","scale":{"domain":["Migration","Packet Arriving Interval","CPU Load (Source)","CPU Load (Destination)"],"range":["#E69F00","#9400D3","#009E73","#56B4E9"]},
    "legend":{"orient":"none","legendX":324,"legendY":257,"title":null,"labelFontSize":16,"labelColor":"#000","labelAlign":"right","labelOffset":-41.7,"symbolSize":256,"rowPadding":0,"padding":0,"symbolStrokeWidth":0,"symbolOpacity":1,"labelLimit":400}},
   "shape":{"field":"s","type":"nominal","scale":{"domain":["Migration","Packet Arriving Interval","CPU Load (Source)","CPU Load (Destination)"],"range":["M-2.875,-0.46H2.875V0.46H-2.875Z","M-0.22,0A0.22,0.22 0 1,0 0.22,0A0.22,0.22 0 1,0 -0.22,0Z","M-2.875,-0.16H2.875V0.16H-2.875Z","M-2.875,-0.16H2.875V0.16H-2.875Z"]}}}}
],
"resolve":{"scale":{"y":"independent"},"axis":{"x":"independent","y":"independent"}}
}
